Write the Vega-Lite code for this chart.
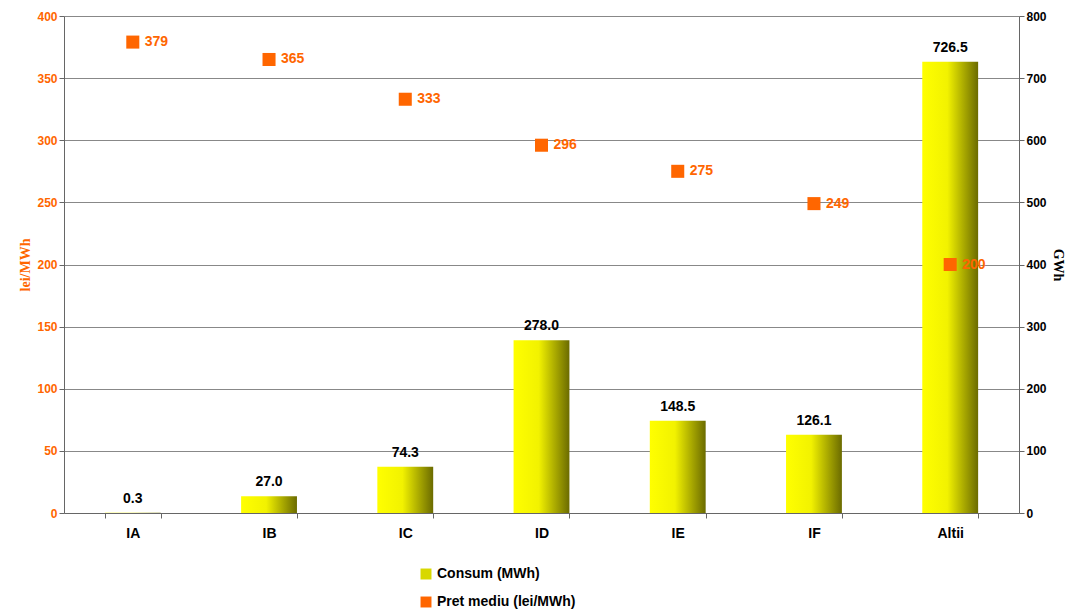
{
  "$schema": "https://vega.github.io/schema/vega-lite/v6.json",
  "width": 955,
  "height": 497,
  "padding": {"left": 18, "top": 10, "right": 5, "bottom": 0},
  "background": "white",
  "data": {"values": [
    {"cat": "IA", "gwh": 0.3, "pret": 379},
    {"cat": "IB", "gwh": 27.0, "pret": 365},
    {"cat": "IC", "gwh": 74.3, "pret": 333},
    {"cat": "ID", "gwh": 278.0, "pret": 296},
    {"cat": "IE", "gwh": 148.5, "pret": 275},
    {"cat": "IF", "gwh": 126.1, "pret": 249},
    {"cat": "Altii", "gwh": 726.5, "pret": 200}
  ]},
  "encoding": {
    "x": {"field": "cat", "type": "nominal", "sort": null, "title": null,
      "scale": {"paddingInner": 0.59, "paddingOuter": 0.3},
      "axis": {"labelAngle": 0, "labelFontSize": 14, "labelFontWeight": "bold", "labelFont": "Liberation Sans", "labelColor": "black", "domainColor": "#666", "tickColor": "#666", "tickBand": "extent", "labelPadding": 8}}
  },
  "layer": [
    {
      "encoding": {
        "y": {"field": "gwh", "type": "quantitative", "scale": {"domain": [0, 800]},
          "axis": {"orient": "right", "title": "GWh", "titleAngle": 90, "titleFont": "Liberation Serif", "titleFontSize": 14, "titleFontWeight": "bold", "titleColor": "black", "values": [0,100,200,300,400,500,600,700,800], "labelFontSize": 12, "labelFontWeight": "bold", "labelFont": "Liberation Sans", "labelColor": "black", "grid": false, "domainColor": "#666", "tickColor": "#666"}}
      },
      "layer": [
        {
          "mark": {"type": "bar", "color": {"gradient": "linear", "x1": 0, "x2": 1, "y1": 0, "y2": 0, "stops": [{"offset": 0, "color": "#ffff00"}, {"offset": 0.45, "color": "#f2f200"}, {"offset": 1, "color": "#6b6b00"}]}}
        },
        {
          "mark": {"type": "text", "dy": -14, "fontSize": 14, "fontWeight": "bold", "font": "Liberation Sans", "color": "black"},
          "encoding": {"text": {"field": "gwh", "type": "quantitative", "format": ".1f"}}
        }
      ]
    },
    {
      "encoding": {
        "y": {"field": "pret", "type": "quantitative", "scale": {"domain": [0, 400]},
          "axis": {"orient": "left", "zindex": 0, "title": "lei/MWh", "titleFont": "Liberation Serif", "titleFontSize": 14, "titleFontWeight": "bold", "titleColor": "#ff6600", "values": [0,50,100,150,200,250,300,350,400], "labelFontSize": 12, "labelFontWeight": "bold", "labelFont": "Liberation Sans", "labelColor": "#ff6600", "grid": true, "gridColor": "#888", "gridOpacity": 1, "domainColor": "#666", "tickColor": "#666"}}
      },
      "layer": [
        {
          "mark": {"type": "point", "shape": "square", "filled": true, "size": 170, "opacity": 1},
          "encoding": {
            "color": {"datum": "Pret mediu (lei/MWh)", "type": "nominal",
              "scale": {"domain": ["Consum (MWh)", "Pret mediu (lei/MWh)"], "range": ["#d8d800", "#ff6600"]},
              "legend": {"orient": "none", "legendX": 355, "legendY": 551, "direction": "vertical", "title": null, "symbolType": "square", "symbolSize": 120, "symbolOpacity": 1, "labelFontSize": 14, "labelFontWeight": "bold", "labelFont": "Liberation Sans", "rowPadding": 14}}
          }
        },
        {
          "mark": {"type": "text", "align": "left", "dx": 12, "fontSize": 14, "fontWeight": "bold", "font": "Liberation Sans", "color": "#ff6600"},
          "encoding": {"text": {"field": "pret", "type": "quantitative"}}
        }
      ]
    }
  ],
  "resolve": {"scale": {"y": "independent"}, "axis": {"y": "independent"}},
  "config": {"view": {"stroke": null}}
}
